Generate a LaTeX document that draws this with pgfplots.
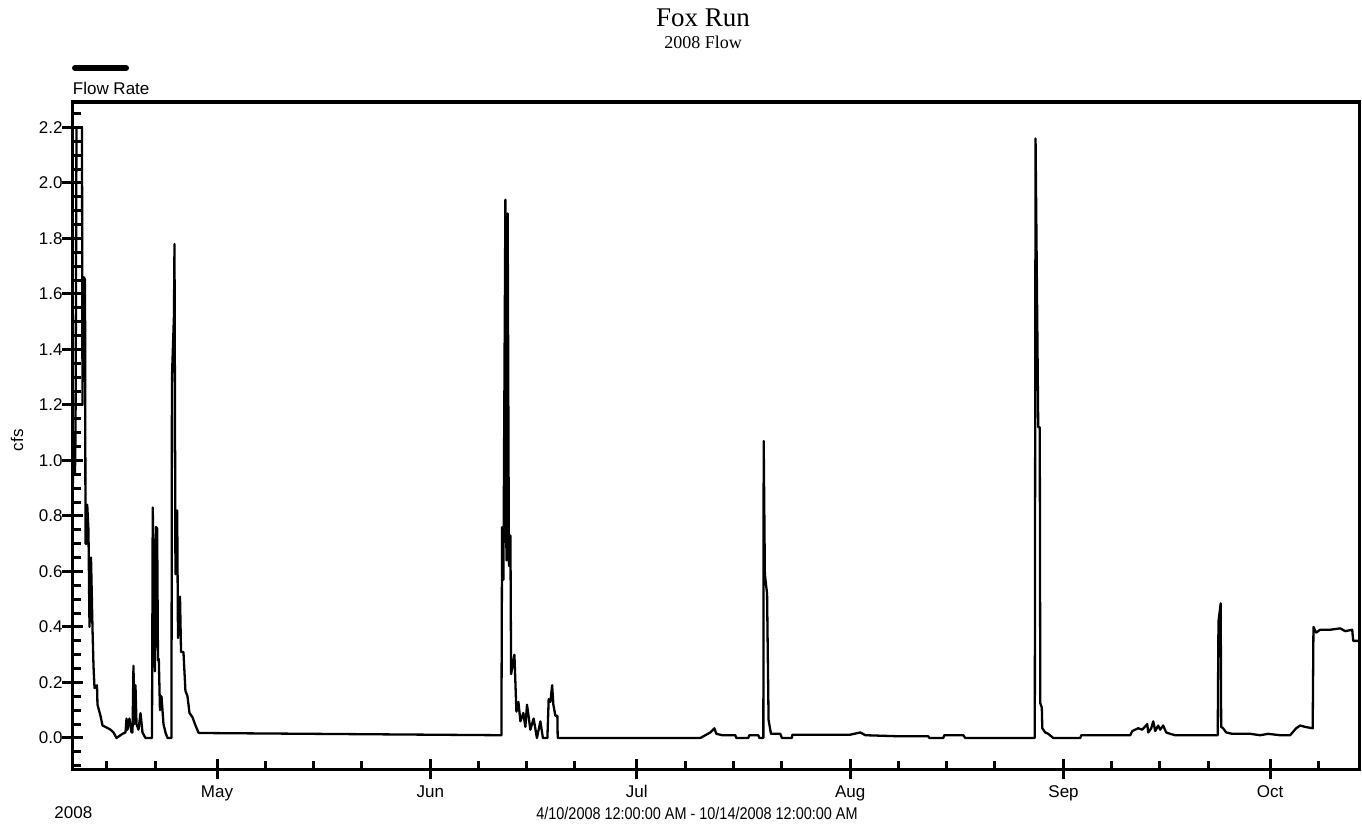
\documentclass[border=0pt]{standalone}
\usepackage{fontspec}
\setmainfont{Liberation Sans}
\newfontfamily\timesfont{Liberation Serif}
\usepackage{pgfplots}
\usepackage{pgfplotstable}
\pgfplotsset{compat=1.18}
\pgfplotstableread{
d v
0.00 0.85
0.15 1.05
0.29 1.10
0.36 0.95
0.44 1.10
0.58 2.20
1.38 2.20
1.45 1.20
1.53 1.58
1.67 1.66
1.82 1.65
1.89 0.70
2.03 0.70
2.14 0.84
2.32 0.75
2.47 0.40
2.69 0.65
2.91 0.39
3.05 0.26
3.20 0.18
3.56 0.19
3.63 0.12
4.07 0.08
4.36 0.045
4.79 0.04
5.52 0.03
5.96 0.02
6.39 0.00
6.68 0.005
7.26 0.015
7.70 0.02
7.85 0.07
7.99 0.03
8.28 0.07
8.57 0.02
8.72 0.02
8.86 0.26
9.00 0.05
9.15 0.19
9.30 0.05
9.59 0.03
9.88 0.09
10.17 0.02
10.60 0.00
11.55 0.00
11.66 0.83
11.98 0.24
12.13 0.76
12.30 0.755
12.42 0.28
12.54 0.285
12.71 0.10
12.93 0.15
13.22 0.05
13.51 0.02
13.80 0.00
14.38 0.00
14.45 1.30
14.74 1.52
14.82 1.78
14.96 0.59
15.21 0.82
15.33 0.36
15.62 0.51
15.77 0.31
16.12 0.31
16.41 0.17
16.71 0.15
17.00 0.09
17.43 0.075
17.87 0.045
18.30 0.02
18.45 0.018
62.17 0.01
62.32 0.01
62.42 0.76
62.61 0.57
62.90 1.94
63.05 0.64
63.23 1.89
63.41 0.62
63.63 0.73
63.73 0.23
64.21 0.30
64.50 0.095
64.79 0.13
65.08 0.06
65.51 0.09
65.80 0.04
66.04 0.12
66.53 0.03
67.00 0.07
67.48 0.00
67.98 0.06
68.35 0.00
69.00 0.00
69.19 0.14
69.44 0.13
69.69 0.19
69.87 0.12
70.16 0.08
70.45 0.08
70.50 0.00
91.23 0.00
91.95 0.01
92.68 0.02
93.26 0.035
93.55 0.015
94.42 0.01
96.31 0.01
96.45 0.00
98.19 0.00
98.34 0.01
99.65 0.01
99.80 0.00
100.38 0.00
100.43 1.07
100.60 0.59
100.92 0.52
101.14 0.065
101.49 0.015
102.85 0.015
103.07 0.00
104.52 0.00
104.60 0.012
113.02 0.012
114.47 0.02
115.20 0.01
120.28 0.006
124.35 0.006
124.50 0.00
126.53 0.00
126.67 0.01
129.43 0.01
129.72 0.00
139.82 0.00
139.93 2.16
140.32 1.12
140.54 1.12
140.62 0.125
140.84 0.11
140.91 0.035
141.34 0.02
141.78 0.015
142.50 0.00
146.43 0.00
146.57 0.01
153.69 0.01
153.98 0.025
154.85 0.035
155.43 0.03
156.16 0.05
156.30 0.02
156.74 0.035
157.03 0.06
157.32 0.025
157.75 0.045
158.04 0.03
158.48 0.045
158.91 0.02
159.49 0.015
160.22 0.01
166.40 0.01
166.51 0.42
166.83 0.485
166.90 0.04
167.19 0.035
167.62 0.02
168.50 0.015
171.12 0.015
172.57 0.01
173.73 0.015
175.47 0.01
176.92 0.01
177.79 0.035
178.37 0.045
179.10 0.04
180.20 0.035
180.31 0.40
180.71 0.38
181.29 0.39
182.74 0.39
184.20 0.395
184.92 0.385
185.94 0.39
186.09 0.35
187.00 0.35
}\flowdata
\begin{document}
\begin{tikzpicture}
\path[use as bounding box] (-72.5bp,-55.7bp) rectangle (1289.5bp,769.3bp);
\begin{axis}[
  at={(0,0)}, anchor=south west,
  scale only axis, width=1287bp, height=667.3bp,
  xmin=0, xmax=187, ymin=-0.1128, ymax=2.2916,
  axis line style={line width=3.5bp},
  xtick={21,52,82,113,144,174},
  xticklabels={May,Jun,Jul,Aug,Sep,Oct},
  minor xtick={5,12,28,35,42,59,66,73,89,96,103,120,127,134,151,158,165,181},
  ytick={0,0.2,0.4,0.6,0.8,1.0,1.2,1.4,1.6,1.8,2.0,2.2},
  yticklabels={0.0,0.2,0.4,0.6,0.8,1.0,1.2,1.4,1.6,1.8,2.0,2.2},
  minor ytick={-0.1,-0.05,0.05,0.1,0.15,0.25,0.3,0.35,0.45,0.5,0.55,0.65,0.7,0.75,0.85,0.9,0.95,1.05,1.1,1.15,1.25,1.3,1.35,1.45,1.5,1.55,1.65,1.7,1.75,1.85,1.9,1.95,2.05,2.1,2.15,2.25},
  tick align=inside, xtick pos=left, ytick pos=left,
  major tick length=20bp, minor tick length=8.5bp,
  tick style={line width=3bp, black},
  major x tick style={yshift=-10bp},
  major y tick style={xshift=-10bp},
  ticklabel style={font=\fontsize{17bp}{20bp}\selectfont, inner sep=0pt},
  xticklabel style={anchor=base, yshift=-27.7bp},
  yticklabel style={anchor=east, xshift=-9.8bp},
]
\addplot[line width=2.3bp, black, line join=round, mark=none] table[x=d, y=v] {\flowdata};
\end{axis}
\node[anchor=base, inner sep=0pt, font=\timesfont\fontsize{27bp}{30bp}\selectfont] at (630.5bp,742.6bp) {Fox Run};
\node[anchor=base, inner sep=0pt, font=\timesfont\fontsize{18bp}{20bp}\selectfont] at (630.5bp,721bp) {2008 Flow};
\draw[line width=6bp, line cap=round] (2.5bp,701.3bp) -- (53.5bp,701.3bp);
\node[anchor=base west, inner sep=0pt, font=\fontsize{17bp}{20bp}\selectfont] at (0.2bp,674.3bp) {Flow Rate};
\node[rotate=90, inner sep=0pt, font=\fontsize{17bp}{20bp}\selectfont] at (-55.5bp,329bp) {cfs};
\node[anchor=base west, inner sep=0pt, font=\fontsize{17bp}{20bp}\selectfont] at (-18.2bp,-49bp) {2008};
\node[anchor=base, inner sep=0pt, xscale=0.85, font=\fontsize{17bp}{20bp}\selectfont] at (624.5bp,-49.7bp) {4/10/2008 12:00:00 AM - 10/14/2008 12:00:00 AM};
\end{tikzpicture}
\end{document}
